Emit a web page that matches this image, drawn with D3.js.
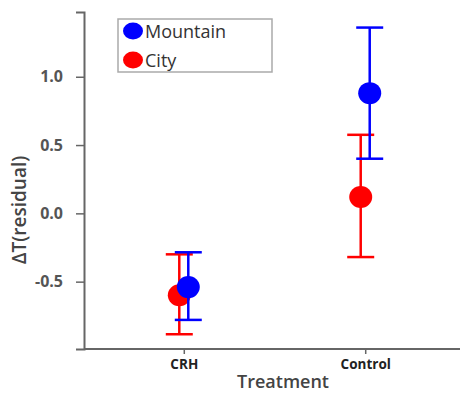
<!DOCTYPE html>
<html>
<head>
<meta charset="utf-8">
<script src="https://cdn.jsdelivr.net/npm/d3@7"></script>
<style>
  body { margin: 0; background: #fff; }
  svg { display: block; font-family: "Open Sans", sans-serif; }
</style>
</head>
<body>
<svg id="chart" width="460" height="393"></svg>
<script>
// values
const treatments = ["CRH", "Control"];
const groups = ["Mountain", "City"];
const groupColors = ["#0000ff", "#ff0000"];
const mountainMean = [-0.54, 0.88];
const mountainLow = [-0.78, 0.40];
const mountainHigh = [-0.285, 1.36];
const cityMean = [-0.60, 0.12];
const cityLow = [-0.885, -0.32];
const cityHigh = [-0.30, 0.575];
const yTicks = [-0.5, 0.0, 0.5, 1.0];

const svg = d3.select("#chart");
const plotLeft = 84, plotRight = 465, plotTop = 12, plotBottom = 349;

const xScale = d3.scalePoint().domain(treatments).range([plotLeft, plotRight]).padding(0.55);
const yScale = d3.scaleLinear().domain([-0.993, 1.474]).range([plotBottom, plotTop]);

// series, drawn city first so mountain sits on top
const series = [
  { name: groups[1], color: groupColors[1], mean: cityMean, low: cityLow, high: cityHigh, dx: -4.5 },
  { name: groups[0], color: groupColors[0], mean: mountainMean, low: mountainLow, high: mountainHigh, dx: 4.5 }
];

/**
 * Draws one series: error bars with caps, then the mean dot
 */
function drawSeries(s) {
  const rows = treatments.map((t, i) => ({ t: t, mean: s.mean[i], low: s.low[i], high: s.high[i] }));
  const g = svg.append("g").attr("class", "series");
  const cx = d => xScale(d.t) + s.dx;

  g.selectAll(".bar").data(rows).join("line")
    .attr("x1", cx).attr("x2", cx)
    .attr("y1", d => yScale(d.low)).attr("y2", d => yScale(d.high))
    .attr("stroke", s.color).attr("stroke-width", 2.5);

  ["low", "high"].forEach(function (k) {
    g.selectAll(".cap-" + k).data(rows).join("line")
      .attr("x1", d => cx(d) - 13.5).attr("x2", d => cx(d) + 13.5)
      .attr("y1", d => yScale(d[k])).attr("y2", d => yScale(d[k]))
      .attr("stroke", s.color).attr("stroke-width", 2.5);
  });

  g.selectAll(".dot").data(rows).join("ellipse")
    .attr("cx", cx).attr("cy", d => yScale(d.mean))
    .attr("rx", 11.5).attr("ry", 11)
    .attr("fill", s.color);
}

series.forEach(drawSeries);

// axes
const yAxis = svg.append("g")
  .attr("transform", "translate(" + plotLeft + ",0)")
  .call(d3.axisLeft(yScale).tickValues(yTicks).tickFormat(d => d.toFixed(1)).tickSizeOuter(0).tickSize(8).tickPadding(13));
yAxis.select(".domain").attr("stroke", "#666").attr("stroke-width", 2);
yAxis.selectAll(".tick line").attr("stroke", "#666").attr("stroke-width", 1.5);
yAxis.selectAll(".tick text")
  .attr("fill", "#555").attr("font-size", 16).attr("font-weight", "bold")
  .attr("font-family", "Open Sans, sans-serif");

const xAxis = svg.append("g")
  .attr("transform", "translate(0," + plotBottom + ")")
  .call(d3.axisBottom(xScale).tickSizeOuter(0).tickSize(5).tickPadding(5));
xAxis.select(".domain").attr("stroke", "#666").attr("stroke-width", 2)
  .attr("d", "M" + plotLeft + ",0H" + plotRight);
xAxis.selectAll(".tick line").attr("stroke", "#666").attr("stroke-width", 1.5);
xAxis.selectAll(".tick text")
  .attr("fill", "#222").attr("font-size", 13.5).attr("font-weight", "bold")
  .attr("font-family", "Open Sans, sans-serif");

// axis titles
svg.append("text")
  .attr("x", 283).attr("y", 388)
  .attr("text-anchor", "middle")
  .attr("font-size", 18).attr("font-weight", 600).attr("fill", "#444")
  .text("Treatment");

svg.append("text")
  .attr("transform", "translate(26,210) rotate(-90)")
  .attr("text-anchor", "middle")
  .attr("font-size", 19).attr("font-weight", 600).attr("fill", "#444")
  .text("ΔT(residual)");

// legend
const legend = svg.append("g").attr("transform", "translate(118,19)");
legend.append("rect")
  .attr("width", 154).attr("height", 53)
  .attr("fill", "#fff").attr("stroke", "#aaa").attr("stroke-width", 1.5);
const items = legend.selectAll(".item").data(groups).join("g")
  .attr("transform", (d, i) => "translate(0," + (12 + i * 29) + ")");
items.append("ellipse")
  .attr("cx", 15).attr("cy", 0).attr("rx", 10).attr("ry", 8.5)
  .attr("fill", (d, i) => groupColors[i]);
items.append("text")
  .attr("x", 27).attr("y", 7)
  .attr("font-size", 18).attr("fill", "#333")
  .text(d => d);
</script>
</body>
</html>
